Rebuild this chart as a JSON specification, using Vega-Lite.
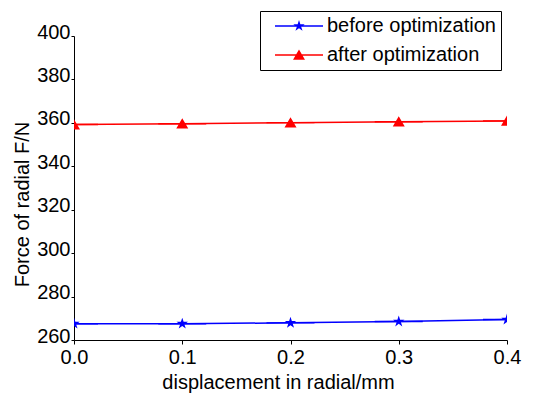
{
  "$schema": "https://vega.github.io/schema/vega-lite/v6.json",
  "width": 433,
  "height": 304,
  "autosize": {"type": "none"},
  "padding": {"left": 74, "top": 36, "right": 37, "bottom": 54},
  "background": "white",
  "config": {
    "font": "Liberation Sans",
    "view": {"stroke": null},
    "axis": {
      "domainColor": "#000000",
      "domainWidth": 1,
      "tickColor": "#000000",
      "labelColor": "#000000",
      "titleColor": "#000000",
      "labelFont": "Liberation Sans",
      "titleFont": "Liberation Sans",
      "labelFontSize": 20,
      "titleFontSize": 20,
      "titleFontWeight": "normal",
      "grid": false
    },
    "legend": {
      "labelFont": "Liberation Sans",
      "labelFontSize": 20,
      "labelColor": "#000000",
      "labelLimit": 400,
      "strokeColor": "#000000",
      "fillColor": "#ffffff",
      "padding": 5,
      "symbolOffset": 24,
      "labelOffset": 18,
      "rowPadding": 9,
      "symbolSize": 144
    }
  },
  "data": {
    "values": [
      {"x": 0.0, "force": 267.5, "series": "before optimization"},
      {"x": 0.1, "force": 267.5, "series": "before optimization"},
      {"x": 0.2, "force": 267.9, "series": "before optimization"},
      {"x": 0.3, "force": 268.5, "series": "before optimization"},
      {"x": 0.4, "force": 269.4, "series": "before optimization"},
      {"x": 0.0, "force": 359.2, "series": "after optimization"},
      {"x": 0.1, "force": 359.6, "series": "after optimization"},
      {"x": 0.2, "force": 360.1, "series": "after optimization"},
      {"x": 0.3, "force": 360.5, "series": "after optimization"},
      {"x": 0.4, "force": 360.9, "series": "after optimization"}
    ]
  },
  "encoding": {
    "x": {
      "field": "x",
      "type": "quantitative",
      "scale": {"domain": [0, 0.4], "nice": false, "zero": false},
      "axis": {
        "title": "displacement in radial/mm",
        "values": [0, 0.1, 0.2, 0.3, 0.4],
        "format": ".1f",
        "tickSize": 4,
        "labelPadding": 3,
        "labelFlush": false,
        "labelBound": false,
        "titlePadding": 5,
        "titleX": 204,
        "titleAnchor": null
      }
    },
    "y": {
      "field": "force",
      "type": "quantitative",
      "scale": {"domain": [260, 400], "nice": false, "zero": false},
      "axis": {
        "title": "Force of radial F/N",
        "values": [260, 280, 300, 320, 340, 360, 380, 400],
        "tickSize": 3,
        "labelPadding": 1,
        "labelOffset": -4,
        "labelFlush": false,
        "labelBound": false,
        "titlePadding": 4,
        "titleY": 168
      }
    }
  },
  "layer": [
    {
      "mark": {"type": "line", "strokeWidth": 1.5, "clip": true},
      "encoding": {
        "detail": {"field": "series", "type": "nominal"},
        "stroke": {
          "condition": {"test": "datum.series === 'before optimization'", "value": "#0000ff"},
          "value": "#ff0000"
        }
      }
    },
    {
      "mark": {"type": "point", "filled": true, "opacity": 1, "size": 144, "clip": true},
      "encoding": {
        "color": {
          "field": "series",
          "type": "nominal",
          "scale": {"domain": ["before optimization", "after optimization"], "range": ["#0000ff", "#ff0000"]},
          "legend": {"title": null, "orient": "none", "legendX": 186, "legendY": -25}
        },
        "shape": {
          "field": "series",
          "type": "nominal",
          "scale": {
            "domain": ["before optimization", "after optimization"],
            "range": [
              "M0,-1 L0.225,-0.309 L0.951,-0.309 L0.363,0.118 L0.588,0.809 L0,0.382 L-0.588,0.809 L-0.363,0.118 L-0.951,-0.309 L-0.225,-0.309 Z M-4,-0.12 L4,-0.12 L4,0.12 L-4,0.12 Z",
              "M0,-0.9 L1,0.8 L-1,0.8 Z M-4,-0.12 L4,-0.12 L4,0.12 L-4,0.12 Z"
            ]
          },
          "legend": {"title": null, "orient": "none", "legendX": 186, "legendY": -25}
        }
      }
    }
  ]
}
